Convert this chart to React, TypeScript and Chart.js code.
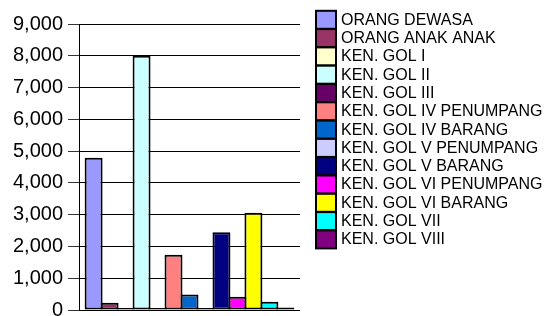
import React, { useEffect, useRef } from "react";
import { Chart, registerables } from "chart.js";

Chart.register(...registerables);

const categories = [""];
const seriesNames = [
  "ORANG DEWASA",
  "ORANG ANAK ANAK",
  "KEN. GOL I",
  "KEN. GOL II",
  "KEN. GOL III",
  "KEN. GOL IV PENUMPANG",
  "KEN. GOL IV BARANG",
  "KEN. GOL V PENUMPANG",
  "KEN. GOL V BARANG",
  "KEN. GOL VI PENUMPANG",
  "KEN. GOL VI BARANG",
  "KEN. GOL VII",
  "KEN. GOL VIII",
];
const seriesValues = [4790, 230, 60, 8000, 60, 1740, 490, 60, 2450, 420, 3060, 260, 80];
const seriesColors = [
  "#9999FF",
  "#993366",
  "#FFFFCC",
  "#CCFFFF",
  "#660066",
  "#FF8080",
  "#0066CC",
  "#CCCCFF",
  "#000080",
  "#FF00FF",
  "#FFFF00",
  "#00FFFF",
  "#800080",
];
const yMin = 0;
const yMax = 9000;
const yStep = 1000;

const legendPlugin = {
  id: "customLegend",
  afterDraw(chart: any) {
    const ctx = chart.ctx;
    ctx.save();
    const startY = 19.8;
    const pitch = 18.3;
    chart.data.datasets.forEach((ds: any, i: number) => {
      const cy = startY + i * pitch;
      ctx.fillStyle = ds.backgroundColor;
      ctx.fillRect(316, cy - 9, 20, 18);
      ctx.lineWidth = 2;
      ctx.strokeStyle = "#000";
      ctx.strokeRect(316, cy - 9, 20, 18);
      ctx.fillStyle = "#000";
      ctx.font = "16px 'Liberation Sans', Arial, sans-serif";
      ctx.textAlign = "left";
      ctx.textBaseline = "middle";
      ctx.fillText(ds.label, 341, cy + 0.5);
    });
    ctx.restore();
  },
};

export default function App() {
  const ref = useRef<HTMLCanvasElement | null>(null);
  useEffect(() => {
    if (!ref.current) return;
    const chart = new Chart(ref.current, {
      type: "bar",
      data: {
        labels: categories,
        datasets: seriesNames.map((name, i) => ({
          label: name,
          data: [seriesValues[i]],
          backgroundColor: seriesColors[i],
          borderColor: "#000",
          borderWidth: 2,
          borderSkipped: false,
          barPercentage: 1.125,
          categoryPercentage: 0.94,
        })),
      },
      options: {
        animation: false,
        responsive: false,
        maintainAspectRatio: false,
        layout: { padding: { left: 0, top: 24, right: 244, bottom: 6 } },
        plugins: {
          legend: { display: false },
          tooltip: { enabled: false },
        },
        scales: {
          x: {
            display: false,
            grid: { display: false },
          },
          y: {
            min: yMin,
            max: yMax,
            afterFit: (s: any) => {
              s.width = 79;
              s.paddingTop = 0;
              s.paddingBottom = 0;
            },
            ticks: {
              stepSize: yStep,
              padding: 5,
              color: "#000",
              font: { family: "'Liberation Sans', Arial, sans-serif", size: 20 },
            },
            grid: {
              display: true,
              drawOnChartArea: true,
              color: "#000000",
              lineWidth: 1,
              tickLength: 11,
              tickColor: "#333333",
            },
            border: { display: true, color: "#000", width: 1 },
          },
        },
      },
      plugins: [legendPlugin],
    });
    return () => chart.destroy();
  }, []);
  return (
    <div style={{ position: "absolute", left: 0, top: 0, width: 544, height: 316, background: "#fff" }}>
      <canvas ref={ref} width={544} height={316} style={{ display: "block" }} />
    </div>
  );
}
